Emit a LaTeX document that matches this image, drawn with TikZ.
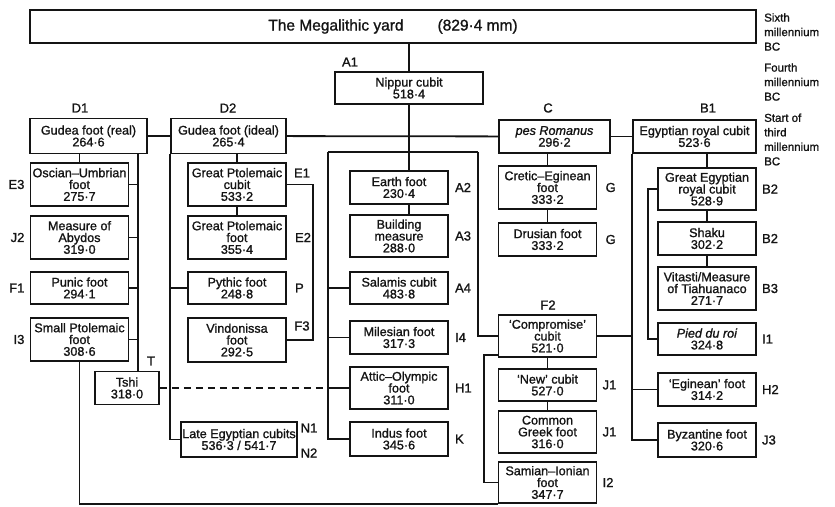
\documentclass[tikz,border=0pt]{standalone}
\usepackage{fontspec}
\setmainfont{Liberation Sans}[UprightFeatures={FakeBold=1.2}, ItalicFeatures={FakeBold=1.2}]
\usetikzlibrary{positioning}
\definecolor{ink}{HTML}{141414}
\tikzset{el/.style={line join=miter}}

\begin{document}
\begin{tikzpicture}[el, x=1pt, y=-1pt, node distance=5pt,
     box/.style={draw=ink, text=ink, line width=1.8pt, align=center, inner sep=1pt,
        minimum width=98pt, font=\fontsize{12.6}{11.8}\selectfont},
     two/.style={box, minimum height=33pt},
     three/.style={box, minimum height=43pt},
     lbl/.style={text=ink, inner sep=0pt, font=\fontsize{13}{13}\selectfont},
     era/.style={text=ink, inner sep=0pt, anchor=west, align=left,
        font=\fontsize{11.5}{14.5}\selectfont},
     ln/.style={draw=ink, line width=1.8pt},
     dsh/.style={ln, dash pattern=on 7pt off 5pt}]
     \useasboundingbox (0,0) rectangle (835,506);
     % top row
     \node[box, minimum width=726pt, minimum height=33pt, font=\fontsize{15.5}{16}\selectfont]
        (yard) at (393,26.5) {The Megalithic yard\hspace{34pt}(829·4 mm)};
     \node[box, minimum width=148pt, minimum height=32pt] (nippur) at (409,88) {Nippur cubit\\518·4};
     \node[lbl] at (350,62) {A1};
     \node[two, minimum width=117pt, minimum height=35pt] (gudeaR) at (88.5,136) {Gudea foot (real)\\264·6};
     \node[two, minimum width=115pt, minimum height=35pt] (gudeaI) at (228.5,136) {Gudea foot (ideal)\\265·4};
     \node[two, minimum width=111pt] (pesrom) at (554.5,136.5) {\textit{pes Romanus}\\296·2};
     \node[two, minimum width=123pt] (egroyal) at (694.5,136.5) {Egyptian royal cubit\\523·6};
     \node[lbl] at (80,108) {D1};
     \node[lbl] at (228,108) {D2};
     \node[lbl] at (548,108) {C};
     \node[lbl] at (708,108) {B1};
     \node[era] at (764,32) {Sixth\\millennium\\BC};
     \node[era] at (764,82) {Fourth\\millennium\\BC};
     \node[era] at (764,139.5) {Start of\\third\\millennium\\BC};
     % D1 column
     \node[three] (oscian) at (79.5,184.5) {Oscian–Umbrian\\foot\\275·7};
     \node[three] (abydos) at (79.5,237.5) {Measure of\\Abydos\\319·0};
     \node[two, minimum height=32pt] (punic) at (79.5,288) {Punic foot\\294·1};
     \node[three] (smallpt) at (79.5,339.5) {Small Ptolemaic\\foot\\308·6};
     \node[two, minimum width=64pt] (tshi) at (127,388) {Tshi\\318·0};
     \node[lbl, left=of oscian] {E3};
     \node[lbl, left=of abydos] {J2};
     \node[lbl, left=of punic] {F1};
     \node[lbl, left=of smallpt] {I3};
     \node[lbl] at (151,361) {T};
     % D2 column
     \node[three] (gpcubit) at (237,184.5) {Great Ptolemaic\\cubit\\533·2};
     \node[three] (gpfoot) at (237,237.5) {Great Ptolemaic\\foot\\355·4};
     \node[two, minimum height=32pt] (pythic) at (237,288) {Pythic foot\\248·8};
     \node[three, minimum height=44pt] (vindo) at (237,340) {Vindonissa\\foot\\292·5};
     \node[box, minimum width=116pt, minimum height=35pt] (lateeg) at (239,439.5) {Late Egyptian cubits\\536·3 / 541·7};
     \node[lbl] at (302,173) {E1};
     \node[lbl, right=8pt of gpfoot] {E2};
     \node[lbl, right=8pt of pythic] {P};
     \node[lbl] at (302,326) {F3};
     \node[lbl] at (309,428) {N1};
     \node[lbl] at (309,453) {N2};
     % A column
     \node[two] (earth) at (399,187.5) {Earth foot\\230·4};
     \node[three, minimum height=42pt] (building) at (399,236) {Building\\measure\\288·0};
     \node[two, minimum height=32pt] (salamis) at (399,288) {Salamis cubit\\483·8};
     \node[two] (milesian) at (399,337.5) {Milesian foot\\317·3};
     \node[three, minimum height=42pt] (attic) at (399,388) {Attic–Olympic\\foot\\311·0};
     \node[two, minimum height=34pt] (indus) at (399,439) {Indus foot\\345·6};
     \node[lbl, right=6pt of earth] {A2};
     \node[lbl, right=6pt of building] {A3};
     \node[lbl, right=6pt of salamis] {A4};
     \node[lbl, right=6pt of milesian] {I4};
     \node[lbl, right=6pt of attic] {H1};
     \node[lbl, right=6pt of indus] {K};
     % C and F2 column
     \node[three] (cretic) at (547.5,187.5) {Cretic–Eginean\\foot\\333·2};
     \node[two] (drusian) at (547.5,239.5) {Drusian foot\\333·2};
     \node[three, minimum height=42pt] (compromise) at (547.5,336) {‘Compromise’\\cubit\\521·0};
     \node[two, minimum height=32pt] (newcubit) at (547.5,385) {‘New’ cubit\\527·0};
     \node[three, minimum height=42pt] (greek) at (547.5,432) {Common\\Greek foot\\316·0};
     \node[three, minimum height=41pt] (samian) at (547.5,482.5) {Samian–Ionian\\foot\\347·7};
     \node[lbl, right=8pt of cretic] {G};
     \node[lbl, right=8pt of drusian] {G};
     \node[lbl] at (548,305) {F2};
     \node[lbl, right=5pt of newcubit] {J1};
     \node[lbl, right=5pt of greek] {J1};
     \node[lbl, right=5pt of samian] {I2};
     % B column
     \node[three, minimum height=42pt] (gegroyal) at (707,189) {Great Egyptian\\royal cubit\\528·9};
     \node[two] (shaku) at (707,238.5) {Shaku\\302·2};
     \node[three] (vitasti) at (707,288.5) {Vitasti/Measure\\of Tiahuanaco\\271·7};
     \node[two, minimum height=32pt] (pied) at (707,339) {\textit{Pied du roi}\\324·8};
     \node[two] (eginean) at (707,389.5) {‘Eginean’ foot\\314·2};
     \node[two, minimum height=34pt] (byz) at (707,440) {Byzantine foot\\320·6};
     \node[lbl, right=5pt of gegroyal] {B2};
     \node[lbl, right=5pt of shaku] {B2};
     \node[lbl, right=5pt of vitasti] {B3};
     \node[lbl, right=5pt of pied] {I1};
     \node[lbl, right=5pt of eginean] {H2};
     \node[lbl, right=5pt of byz] {J3};
     % bus lines
     \coordinate (dbus) at (138,0);
     \coordinate (efbus) at (313,0);
     \coordinate (abl) at (328,152);
     \coordinate (abr) at (478,152);
     \coordinate (cbus) at (484,0);
     \coordinate (bbus) at (648,0);
     % connectors
     \draw[ln] (nippur.north) -- (nippur.north |- yard.south);
     \draw[ln] (nippur.south) -- (nippur.south |- earth.north);
     \draw[ln] (gudeaR) -- (gudeaI);\draw[ln] (gudeaI) -- (pesrom);\draw[ln] (pesrom) -- (egroyal);
     \draw[ln] (gudeaR.south -| oscian) -- (oscian.north);
     \draw[ln] (gudeaR.south -| dbus) -- (tshi.north -| dbus);
     \draw[ln] (oscian.east) -- (oscian.east -| dbus);
     \draw[ln] (abydos.east) -- (abydos.east -| dbus);
     \draw[ln] (punic.east) -- (punic.east -| dbus);
     \draw[ln] (smallpt.east) -- (smallpt.east -| dbus);
     \draw[ln] (smallpt.south) |- (samian.south west);
     \draw[dsh] (tshi.east) -- (tshi.east -| abl);
     \draw[ln] (gudeaI.south -| gpcubit) -- (gpcubit.north);
     \draw[ln] (gpcubit) -- (gpfoot);
     \draw[ln] (gpcubit.east) -| (efbus |- vindo.east) -- (vindo.east);
     \draw[ln] (gudeaI.south west) |- (lateeg.west);
     \draw[ln] (pythic.west) -- (pythic.west -| gudeaI.west);
     \draw[ln] (abl) -- (abr);
     \draw[ln] (abl) |- (indus.west);
     \draw[ln] (salamis.west) -- (salamis.west -| abl);
     \draw[ln] (milesian.west) -- (milesian.west -| abl);
     \draw[ln] (attic.west) -- (attic.west -| abl);
     \draw[ln] (earth.south -| nippur) -- (building.north -| nippur);
     \draw[ln] (abr) |- (compromise.west);
     \draw[ln] (pesrom.south -| cretic) -- (cretic.north);
     \draw[ln] (cretic) -- (drusian);
     \draw[ln] (compromise) -- (newcubit);\draw[ln] (newcubit) -- (greek);
     \draw[ln] ([yshift=3pt]compromise.south west) -| (cbus |- samian) -- (samian.west);
     \draw[ln] (compromise.east) -- (compromise.east -| egroyal.west);
     \draw[ln] (egroyal.south -| gegroyal) -- (gegroyal.north);
     \draw[ln] (gegroyal) -- (shaku);\draw[ln] (shaku) -- (vitasti);
     \draw[ln] (gegroyal.west) -| (bbus |- pied) -- (pied.west);
     \draw[ln] (egroyal.south west) |- (byz.west);
     \draw[ln] (eginean.west) -- (eginean.west -| egroyal.west);
  \end{tikzpicture}
\end{document}
